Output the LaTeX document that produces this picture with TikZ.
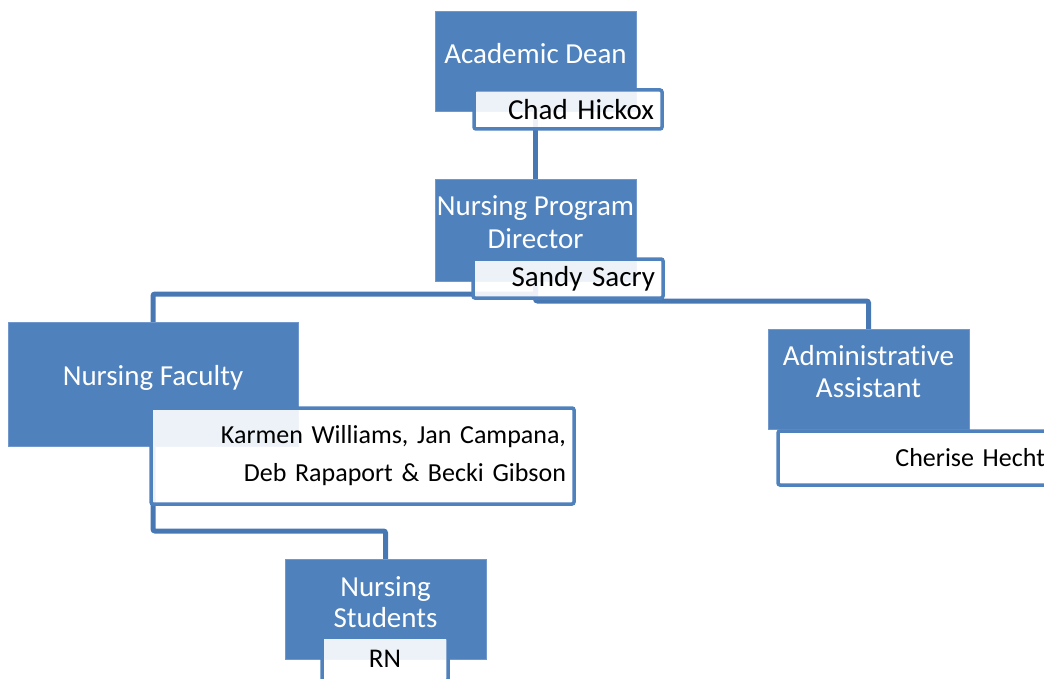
\documentclass[tikz,border=0pt]{standalone}
\usepackage{fontspec}
\setmainfont{Carlito}[Ligatures=NoCommon]
\usetikzlibrary{backgrounds}

\definecolor{boxblue}{RGB}{79,129,189}
\definecolor{edgeblue}{RGB}{112,152,204}
\definecolor{lineblue}{RGB}{72,120,180}

\newcommand\orgTitleFont{\fontsize{29}{33}\selectfont}
\newcommand\orgNameFont{\fontsize{29}{33}\selectfont}

\tikzset{
  unit/.style={fill=boxblue, draw=edgeblue, line width=0.6pt,
    inner sep=0pt, outer sep=0pt, anchor=north west},
  title/.style={text=white, font=\orgTitleFont, align=center, inner sep=0pt},
  namebox/.style={fill=white, fill opacity=0.9, text opacity=1, draw=boxblue,
    line width=3.5pt, rounded corners=2pt, anchor=north west,
    inner xsep=8pt, inner ysep=0pt, outer sep=0pt, align=right,
    font=\orgNameFont, text=black},
  conn/.style={draw=lineblue, line width=5pt, rounded corners=2pt}
}

\begin{document}
\begin{tikzpicture}[x=1pt,y=-1pt]
  \useasboundingbox (0,0) rectangle (1044,679);
  \clip (0,0) rectangle (1044,679);

  % position boxes
  \node[unit, minimum width=201pt, minimum height=100pt] (dean) at (435,11) {};
  \node[unit, minimum width=201pt, minimum height=102pt] (dir) at (435,179) {};
  \node[unit, minimum width=290pt, minimum height=124pt] (fac) at (8,322) {};
  \node[unit, minimum width=201pt, minimum height=100pt] (adm) at (768,329) {};
  \node[unit, minimum width=201pt, minimum height=100pt] (stu) at (285,559) {};

  % position titles
  \node[title] (deanT) at (535.5,54) {Academic Dean};
  \node[title] (dirT) at (535.5,222.5) {Nursing Program\\Director};
  \node[title] (facT) at (153,377.5) {Nursing Faculty};
  \node[title, font=\fontsize{29}{32}\selectfont] (admT) at (868.5,372) {Administrative\\Assistant};
  \node[title, font=\fontsize{29}{31}\selectfont] (stuT) at (385.5,602.5) {Nursing\\Students};

  % name boxes
  \node[namebox, text width=172pt, minimum height=39pt] (deanN) at (474,90) {Chad Hickox};
  \node[namebox, text width=174pt, minimum height=39pt] (dirN) at (473,259) {Sandy Sacry};
  \node[namebox, text width=407pt, minimum height=96pt,
        font=\fontsize{26}{38}\selectfont] (facN) at (151,408)
        {Karmen Williams, Jan Campana,\\Deb Rapaport \& Becki Gibson};
  \node[namebox, text width=259pt, minimum height=54pt,
        font=\fontsize{26}{30}\selectfont] (admN) at (778,431) {Cherise Hecht};
  \node[namebox, text width=110pt, minimum height=44pt, align=center,
        font=\fontsize{27}{30}\selectfont] (stuN) at (322,637) {RN};

  % reporting lines
  \begin{pgfonlayer}{background}
    \draw[conn] (dean.south) -- (dir.north);
    \draw[conn] (dir.south) -- ++(0,13) -| (fac.north);
    \draw[conn] (dir.south) -- ++(0,20) -| (adm.north);
    \draw[conn] (fac.south) -- ++(0,85) -| (stu.north);
  \end{pgfonlayer}
\end{tikzpicture}
\end{document}
